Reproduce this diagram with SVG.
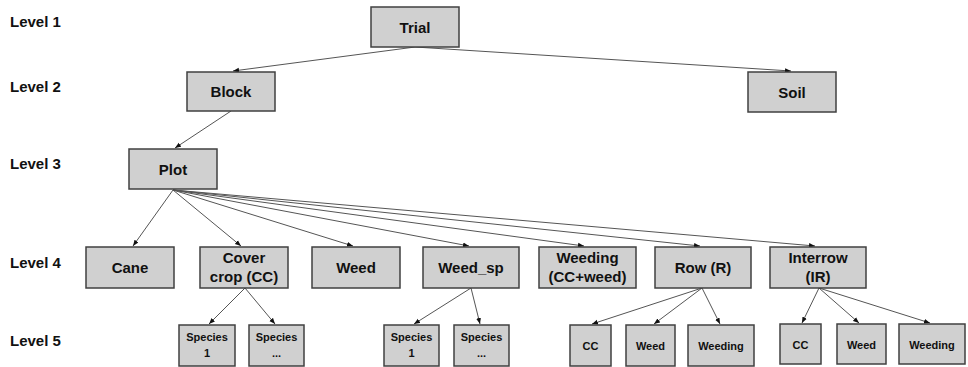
<svg xmlns="http://www.w3.org/2000/svg" width="968" height="367" viewBox="0 0 968 367">
<style>
.box{fill:#d0d0d0;stroke:#404040;stroke-width:1.5}
text{font-family:"Liberation Sans",Arial,sans-serif;font-weight:bold;fill:#111;text-anchor:middle}
.lvl{font-size:15px;text-anchor:start}
.t4{font-size:15px}
.t5{font-size:11px}
.con line{stroke:#555;stroke-width:1;marker-end:url(#ah)}
</style>
<defs>
<marker id="ah" viewBox="0 0 10 10" refX="10" refY="5" markerWidth="6" markerHeight="6" markerUnits="userSpaceOnUse" orient="auto">
<path d="M0,1 L10,5 L0,9 Z" fill="#111"/>
</marker>
</defs>
<rect width="968" height="367" fill="#fff"/>
<g id="levels">
<text class="lvl" x="10" y="27">Level 1</text>
<text class="lvl" x="10" y="92">Level 2</text>
<text class="lvl" x="10" y="169">Level 3</text>
<text class="lvl" x="10" y="268">Level 4</text>
<text class="lvl" x="10" y="346">Level 5</text>
</g>
<g class="con" id="connectors">
<line x1="415" y1="47" x2="233" y2="71"/>
<line x1="415" y1="47" x2="791" y2="71"/>
<line x1="231" y1="111" x2="175" y2="148"/>
<line x1="173" y1="190" x2="133" y2="246"/>
<line x1="173" y1="190" x2="241" y2="246"/>
<line x1="173" y1="190" x2="353" y2="246"/>
<line x1="173" y1="190" x2="469" y2="246"/>
<line x1="173" y1="190" x2="584" y2="246"/>
<line x1="173" y1="190" x2="700" y2="246"/>
<line x1="173" y1="190" x2="815" y2="246"/>
<line x1="245" y1="288" x2="209" y2="324"/>
<line x1="245" y1="288" x2="275" y2="324"/>
<line x1="471" y1="288" x2="414" y2="324"/>
<line x1="471" y1="288" x2="480" y2="324"/>
<line x1="702" y1="288" x2="592" y2="324"/>
<line x1="702" y1="288" x2="654" y2="324"/>
<line x1="702" y1="288" x2="720" y2="324"/>
<line x1="819" y1="288" x2="802" y2="323"/>
<line x1="819" y1="288" x2="859" y2="323"/>
<line x1="819" y1="288" x2="930" y2="323"/>
</g>
<g id="trial"><rect class="box" x="371" y="7" width="88" height="40"/><text class="t4" x="415" y="32.5">Trial</text></g>
<g id="block"><rect class="box" x="187" y="72" width="88" height="39"/><text class="t4" x="231" y="97">Block</text></g>
<g id="soil"><rect class="box" x="748" y="72" width="88" height="40"/><text class="t4" x="792" y="97.5">Soil</text></g>
<g id="plot"><rect class="box" x="129" y="149" width="88" height="40"/><text class="t4" x="173" y="174.5">Plot</text></g>
<g id="cane"><rect class="box" x="86" y="247" width="88" height="41"/><text class="t4" x="130" y="273">Cane</text></g>
<g id="covercrop"><rect class="box" x="200" y="247" width="88" height="41"/><text class="t4" x="244" y="263">Cover</text><text class="t4" x="244" y="282">crop (CC)</text></g>
<g id="weed"><rect class="box" x="312" y="247" width="88" height="41"/><text class="t4" x="356" y="273">Weed</text></g>
<g id="weed_sp"><rect class="box" x="423" y="247" width="96" height="41"/><text class="t4" x="471" y="273">Weed_sp</text></g>
<g id="weeding"><rect class="box" x="539" y="247" width="97" height="41"/><text class="t4" x="587.5" y="263">Weeding</text><text class="t4" x="587.5" y="282">(CC+weed)</text></g>
<g id="row"><rect class="box" x="655" y="247" width="96" height="41"/><text class="t4" x="703" y="273">Row (R)</text></g>
<g id="interrow"><rect class="box" x="770" y="247" width="96" height="41"/><text class="t4" x="818" y="263">Interrow</text><text class="t4" x="818" y="282">(IR)</text></g>
<g id="cc_sp1"><rect class="box" x="179" y="325" width="56" height="41"/><text class="t5" x="207" y="341">Species</text><text class="t5" x="207" y="357">1</text></g>
<g id="cc_spn"><rect class="box" x="249" y="325" width="55" height="41"/><text class="t5" x="276.5" y="341">Species</text><text class="t5" x="276.5" y="357">...</text></g>
<g id="wsp_sp1"><rect class="box" x="384" y="325" width="55" height="41"/><text class="t5" x="411.5" y="341">Species</text><text class="t5" x="411.5" y="357">1</text></g>
<g id="wsp_spn"><rect class="box" x="454" y="325" width="55" height="41"/><text class="t5" x="481.5" y="341">Species</text><text class="t5" x="481.5" y="357">...</text></g>
<g id="row_cc"><rect class="box" x="570" y="325" width="41" height="41"/><text class="t5" x="590.5" y="350">CC</text></g>
<g id="row_weed"><rect class="box" x="626" y="325" width="49" height="41"/><text class="t5" x="650.5" y="350">Weed</text></g>
<g id="row_weeding"><rect class="box" x="688" y="325" width="66" height="41"/><text class="t5" x="721" y="350">Weeding</text></g>
<g id="ir_cc"><rect class="box" x="780" y="324" width="41" height="40"/><text class="t5" x="800.5" y="349">CC</text></g>
<g id="ir_weed"><rect class="box" x="837" y="324" width="49" height="40"/><text class="t5" x="861.5" y="349">Weed</text></g>
<g id="ir_weeding"><rect class="box" x="899" y="324" width="66" height="40"/><text class="t5" x="932" y="349">Weeding</text></g>
</svg>
